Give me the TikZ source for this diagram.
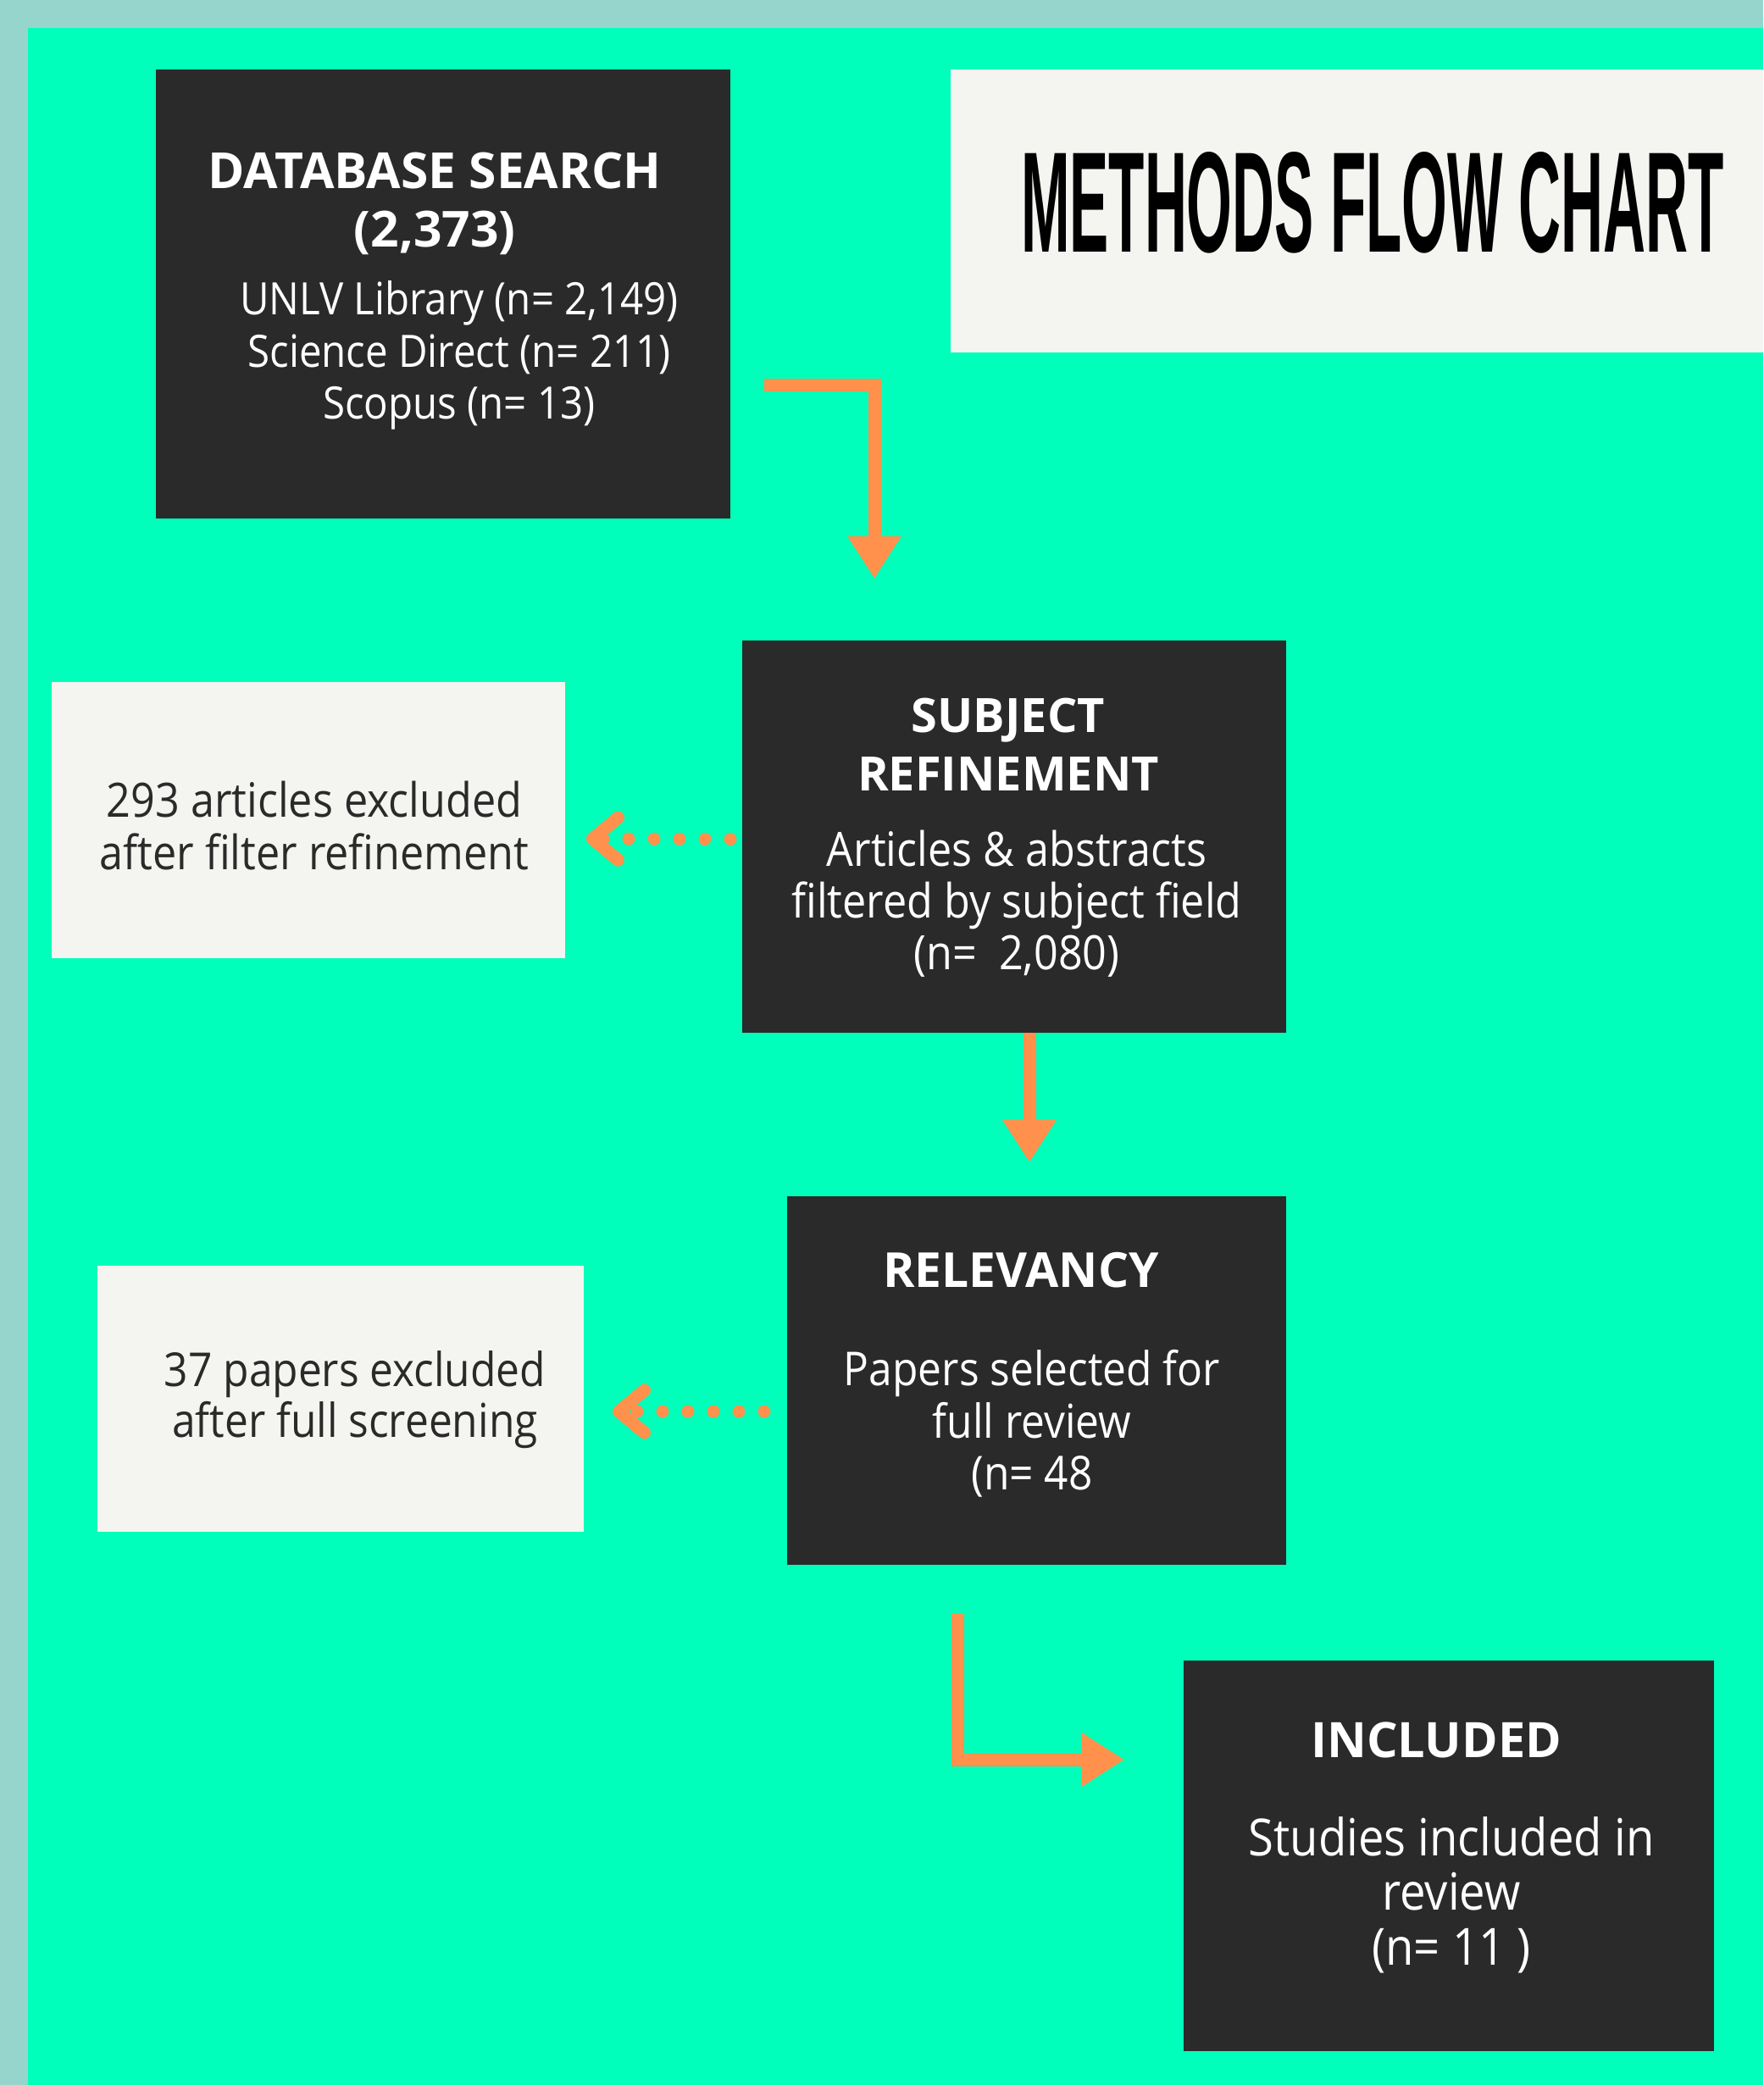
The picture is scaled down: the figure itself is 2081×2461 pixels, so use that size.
\documentclass[tikz,border=0pt]{standalone}
\usepackage{fontspec}
\setmainfont{Open Sans}[UprightFeatures={FakeStretch=0.9}]
\newfontfamily\titlefont{Liberation Sans}
\usepackage{graphicx}
\usetikzlibrary{arrows.meta,calc}
\definecolor{bordercol}{HTML}{96D5CC}
\definecolor{bgcol}{HTML}{00FFBA}
\definecolor{darkcol}{HTML}{2A2A2A}
\definecolor{lightcol}{HTML}{F4F5F0}
\definecolor{orangecol}{HTML}{FF914D}
\tikzset{
  darkbox/.style={fill=darkcol, inner sep=0pt, outer sep=0pt},
  lightbox/.style={fill=lightcol, inner sep=0pt, outer sep=0pt},
  hd/.style 2 args={align=center, inner sep=0pt, text=white, font=\bfseries\fontsize{#1}{#2}\selectfont},
  bdw/.style 2 args={align=center, inner sep=0pt, text=white, font=\fontsize{#1}{#2}\selectfont},
  bdk/.style 2 args={align=center, inner sep=0pt, text=darkcol, font=\fontsize{#1}{#2}\selectfont},
  arr/.style={draw=orangecol, line width=1.5mm, -{Triangle[length=5mm,width=6mm]}},
  dotarr/.style={draw=orangecol, line width=1.5mm, line cap=round, dash pattern=on 0pt off 3mm,
    -{Straight Barb[length=3mm,width=5mm,round]}}
}
\begin{document}
\begin{tikzpicture}[x=0.1mm,y=-0.1mm]
\fill[bordercol] (0,0) rectangle (2081,2461);
\fill[bgcol] (33,33) rectangle (2081,2461);
\useasboundingbox (0,0) rectangle (2081,2461);

% boxes
\node[darkbox, minimum width=67.8mm, minimum height=53mm] (db) at (523,347) {};
\node[lightbox, minimum width=95.9mm, minimum height=33.4mm] (title) at (1601.5,249) {};
\node[darkbox, minimum width=64.2mm, minimum height=46.3mm] (sub) at (1197,987.5) {};
\node[lightbox, minimum width=60.6mm, minimum height=32.6mm] (ex1) at (364,968) {};
\node[darkbox, minimum width=58.9mm, minimum height=43.5mm] (rel) at (1223.5,1629.5) {};
\node[lightbox, minimum width=57.4mm, minimum height=31.4mm] (ex2) at (402,1651) {};
\node[darkbox, minimum width=62.6mm, minimum height=46.1mm] (inc) at (1710,2190.5) {};

% title
\node[inner sep=0pt] (titletext) at (1620,239) {\resizebox{83mm}{11.8mm}{\titlefont\bfseries METHODS FLOW CHART}};

% texts
\node[hd={16.7}{19.6}] (dbh) at (513,240.5) {DATABASE SEARCH\\(2,373)};
\node[bdw={15.0}{17.5}] (dbb) at (542,419.5) {UNLV Library (n= 2,149)\\Science Direct (n= 211)\\Scopus (n= 13)};
\node[hd={15.9}{19.6}] (subh) at (1190,878.5) {SUBJECT\\REFINEMENT};
\node[bdw={15.9}{17.4}] (subb) at (1200,1067) {Articles \& abstracts\\filtered by subject field\\(n=\ \ 2,080)};
\node[bdk={15.9}{17.9}] (ex1t) at (371,974.5) {293 articles excluded\\after filter refinement};
\node[hd={16.2}{19.6}] (relh) at (1205,1499) {RELEVANCY};
\node[bdw={15.7}{17.5}] (relb) at (1218,1680.5) {Papers selected for\\full review\\(n= 48};
\node[bdk={15.7}{17.1}] (ex2t) at (419,1652) {37 papers excluded\\after full screening};
\node[hd={16.4}{19.6}] (inch) at (1695,2054) {INCLUDED};
\node[bdw={17.2}{18.4}] (incb) at (1713,2236.5) {Studies included in\\review\\(n= 11 )};

% connectors
\draw[arr] ($(db.east |- 0,455)+(40,0)$) -| ($(sub.north -| 1032,0)+(0,-73)$);
\draw[arr] (sub.south -| 1215,0) -- ($(rel.north -| 1215,0)+(0,-40)$);
\draw[arr] ($(rel.south -| 1130,0)+(0,58)$) |- ($(inc.west |- 0,2077)+(-70,0)$);
\draw[dotarr] ($(sub.west)+(-14,3)$) -- ($(ex1.east |- 0,990)+(25,0)$);
\draw[dotarr] ($(rel.west |- 0,1666)+(-27,0)$) -- ($(ex2.east |- 0,1666)+(34,0)$);
\end{tikzpicture}
\end{document}
